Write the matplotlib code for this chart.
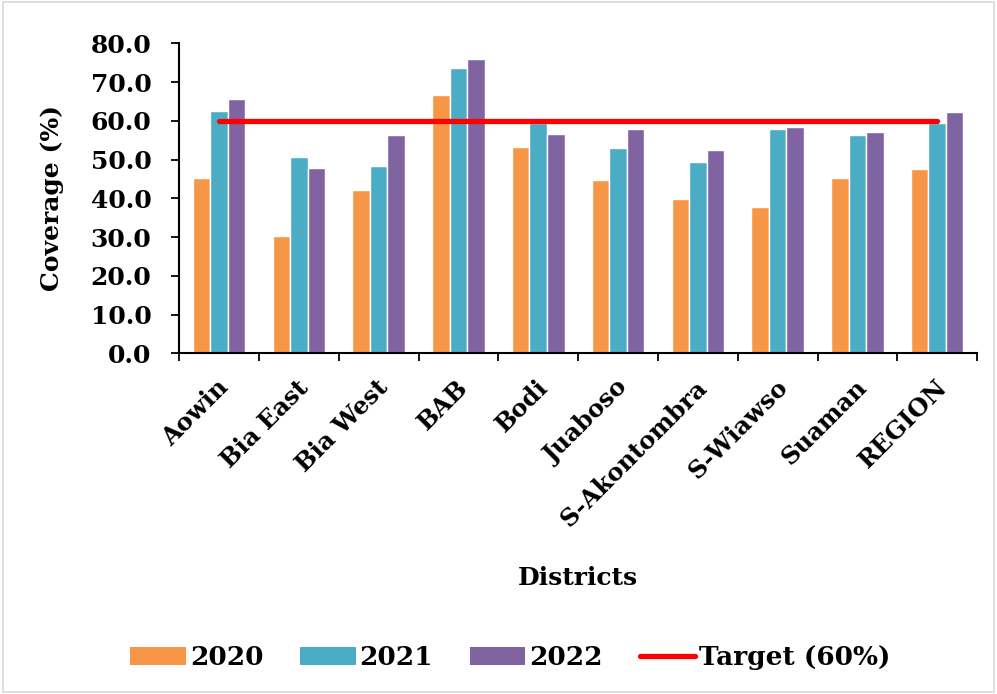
import numpy as np
import matplotlib
matplotlib.use("Agg")
import matplotlib.pyplot as plt
from matplotlib.patches import Patch, Rectangle
from matplotlib.lines import Line2D
from matplotlib.transforms import ScaledTranslation

districts = ["Aowin", "Bia East", "Bia West", "BAB", "Bodi", "Juaboso",
             "S-Akontombra", "S-Wiawso", "Suaman", "REGION"]
cov_2020 = [45.3, 30.4, 42.1, 66.6, 53.3, 44.7, 39.9, 37.7, 45.3, 47.5]
cov_2021 = [62.6, 50.7, 48.3, 73.5, 59.5, 53.0, 49.4, 57.9, 56.3, 59.4]
cov_2022 = [65.7, 47.8, 56.3, 76.0, 56.5, 57.9, 52.5, 58.4, 57.2, 62.2]
target = 60.0

years = ["2020", "2021", "2022"]
colors = ["#F79646", "#4BACC6", "#8064A2"]

plt.rcParams['font.family'] = ['DejaVu Serif']
plt.rcParams['font.weight'] = 'bold'

fig = plt.figure(figsize=(9.97, 6.94), dpi=100)
ax = fig.add_axes([0.1798, 0.4909, 0.8002, 0.4467])

x = np.arange(len(districts))
step = 0.22
for i, (vals, col) in enumerate(zip([cov_2020, cov_2021, cov_2022], colors)):
    ax.bar(x + (i - 1) * step, vals, width=step, color=col,
           edgecolor='white', linewidth=1.0)

# target line runs from first to last category centre
ax.plot([x[0], x[-1]], [target, target], color='#FF0000', lw=3.8,
        solid_capstyle='round')

ax.set_xlim(-0.5, len(districts) - 0.5)
ax.set_ylim(0, 80)
ax.set_yticks(np.arange(0, 81, 10))
ax.set_yticklabels([f"{v:.1f}" for v in np.arange(0, 81, 10)], fontsize=18,
                   fontweight='bold')
ax.tick_params(axis='y', length=6, width=1.3, pad=14)

ax.set_xticks(x)
ax.set_xticklabels(districts, rotation=45, ha='right', va='center',
                   rotation_mode='anchor', fontsize=17.5, fontweight='bold')
ax.tick_params(axis='x', which='major', length=0, pad=22)
shift = ScaledTranslation(6 / 100, 0, fig.dpi_scale_trans)
for lbl in ax.get_xticklabels():
    lbl.set_transform(lbl.get_transform() + shift)
ax.set_xticks(np.arange(-0.5, len(districts)), minor=True)
ax.tick_params(axis='x', which='minor', length=6, width=1.3)

for s in ['top', 'right']:
    ax.spines[s].set_visible(False)
for s in ['left', 'bottom']:
    ax.spines[s].set_linewidth(1.5)

ax.set_ylabel("Coverage (%)", fontsize=18, fontweight='bold')
ax.yaxis.set_label_coords(-0.145, 0.5)
ax.set_xlabel("Districts", fontsize=18, fontweight='bold')
ax.xaxis.set_label_coords(0.5, -0.726)
ax.xaxis.label.set_va('center')

handles = [Patch(facecolor=c, label=y) for c, y in zip(colors, years)]
handles.append(Line2D([0], [0], color='#FF0000', lw=3.8,
                      solid_capstyle='round', label="Target (60%)"))
fig.legend(handles=handles, loc='center', bbox_to_anchor=(0.512, 0.052),
           ncol=4, frameon=False, handlelength=2.1,
           handleheight=0.7, handletextpad=0.15, columnspacing=1.4,
           prop={'weight': 'bold', 'size': 19})

fig.patches.append(Rectangle((0.003, 0.003), 0.994, 0.994,
                             transform=fig.transFigure, fill=False,
                             edgecolor='#d9d9d9', lw=1.2))

fig.savefig("out.png", dpi=100)
